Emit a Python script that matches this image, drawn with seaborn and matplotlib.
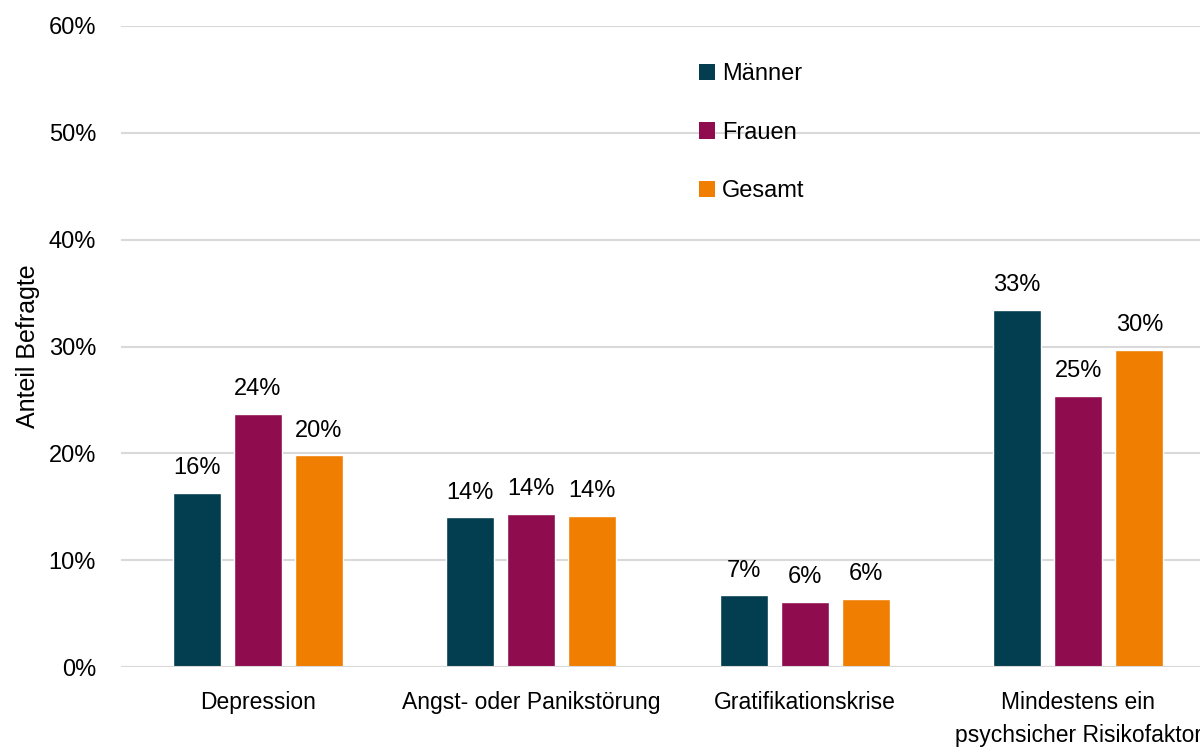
import numpy as np
import pandas as pd
import matplotlib.pyplot as plt
import seaborn as sns
from matplotlib.patches import Patch
from matplotlib.ticker import FuncFormatter

categories = ["Depression", "Angst- oder Panikstörung", "Gratifikationskrise",
              "Mindestens ein\npsychsicher Risikofaktor"]
groups = ["Männer", "Frauen", "Gesamt"]
maenner = [16.3, 14.0, 6.7, 33.4]
frauen = [23.7, 14.3, 6.1, 25.4]
gesamt = [19.8, 14.1, 6.4, 29.7]
colors = ["#023D50", "#8F0C4F", "#F07E00"]

df = pd.DataFrame({
    "Kategorie": categories * 3,
    "Gruppe": np.repeat(groups, len(categories)),
    "Anteil": maenner + frauen + gesamt,
})

sns.set_style("white")
plt.rcParams["font.family"] = ["Liberation Sans", "DejaVu Sans"]

fig = plt.figure(figsize=(12, 7.47), dpi=100)
ax = fig.add_axes([121 / 1200, 80 / 747, 1094 / 1200, 641 / 747])

sns.barplot(data=df, x="Kategorie", y="Anteil", hue="Gruppe", hue_order=groups,
            palette=colors, saturation=1, width=0.67, gap=0.21, legend=False,
            zorder=3, ax=ax)

for cont in ax.containers:
    ax.bar_label(cont, fmt=lambda v: f"{v:.0f}%", padding=10, fontsize=17, color="#000000")

ax.set_ylim(0, 60)
ax.set_xlim(-0.5, 3.5)
ax.set_yticks(range(0, 61, 10))
ax.yaxis.set_major_formatter(FuncFormatter(lambda v, p: f"{v:.0f}%"))
ax.grid(axis="y", color="#D9D9D9", linewidth=1.5, zorder=0)
for s in ["top", "right", "left", "bottom"]:
    ax.spines[s].set_visible(False)
ax.axhline(0, color="#D9D9D9", linewidth=1.5, zorder=4)
ax.tick_params(axis="both", length=0, colors="#000000")
ax.tick_params(axis="y", pad=18, labelsize=17)
ax.tick_params(axis="x", pad=17, labelsize=16.5)
for t in ax.get_xticklabels():
    t.set_linespacing(1.6)
ax.set_xlabel("")
ax.set_ylabel("Anteil Befragte", fontsize=18, color="#000000")
ax.yaxis.set_label_coords(-0.074, 0.5)

handles = [Patch(facecolor=c, edgecolor="none") for c in colors]
fig.legend(handles, groups, loc="upper left", bbox_to_anchor=(0.5645, 0.944),
           frameon=False, fontsize=17, labelcolor="#000000", handlelength=0.7,
           handleheight=0.7, handletextpad=0.3, labelspacing=1.55)

fig.savefig("out.png", dpi=100)
